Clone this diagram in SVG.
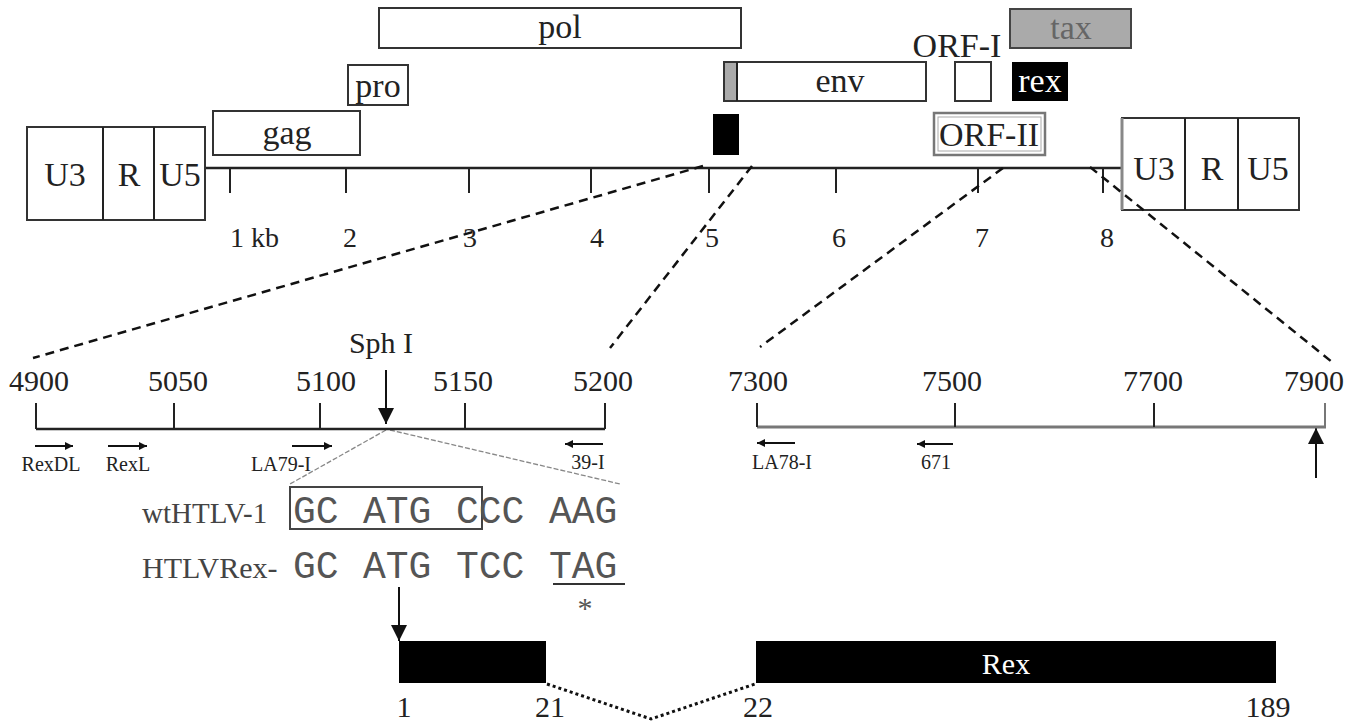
<svg xmlns="http://www.w3.org/2000/svg" width="1362" height="724" viewBox="0 0 1362 724">
<style>
.t{font-family:"Liberation Serif","Times New Roman",serif;fill:#222}
.g{font-size:34px;text-anchor:middle}
.k{font-size:28px;text-anchor:middle}
.s{font-size:30px;text-anchor:middle}
.p{font-size:20px;text-anchor:middle}
.m{font-family:"Liberation Mono","Courier New",monospace;font-size:38px;fill:#555}
.box{fill:#fff;stroke:#333;stroke-width:2}
.ln{stroke:#222;stroke-width:2;fill:none}
.dash{stroke:#111;stroke-width:2.5;stroke-dasharray:9 6;fill:none}
</style>
<defs>
<marker id="sa" viewBox="0 0 10 10" refX="10" refY="5" markerWidth="10" markerHeight="8" markerUnits="userSpaceOnUse" orient="auto"><path d="M0,0 L10,5 L0,10 z" fill="#111"/></marker>
<marker id="ba" viewBox="0 0 10 10" refX="10" refY="5" markerWidth="18" markerHeight="16" markerUnits="userSpaceOnUse" orient="auto"><path d="M0,0 L10,5 L0,10 z" fill="#111"/></marker>
</defs>
<rect width="1362" height="724" fill="#fff"/>

<g id="genome">
<line x1="205" y1="168" x2="1122" y2="168" stroke="#222" stroke-width="2.5"/>
<g class="ln">
<line x1="230" y1="168" x2="230" y2="193"/><line x1="346" y1="168" x2="346" y2="193"/>
<line x1="469" y1="168" x2="469" y2="193"/><line x1="591" y1="168" x2="591" y2="193"/>
<line x1="709" y1="168" x2="709" y2="193"/><line x1="836" y1="168" x2="836" y2="193"/>
<line x1="978" y1="168" x2="978" y2="193"/><line x1="1103" y1="168" x2="1103" y2="193"/>
</g>
<text class="t" x="230" y="247" font-size="28">1 kb</text>
<text class="t k" x="350" y="247">2</text><text class="t k" x="470" y="247">3</text>
<text class="t k" x="597" y="247">4</text><text class="t k" x="712" y="247">5</text>
<text class="t k" x="839" y="247">6</text><text class="t k" x="982" y="247">7</text>
<text class="t k" x="1107" y="247">8</text>
</g>

<g id="ltr-left">
<rect class="box" x="27" y="127" width="178" height="93"/>
<line class="ln" x1="103" y1="127" x2="103" y2="220"/><line class="ln" x1="154" y1="127" x2="154" y2="220"/>
<text class="t g" x="65" y="186">U3</text><text class="t g" x="129" y="186">R</text><text class="t g" x="180" y="186">U5</text>
</g>
<g id="ltr-right">
<rect class="box" x="1122" y="118" width="177" height="92"/>
<line x1="1122" y1="118" x2="1122" y2="210" stroke="#888" stroke-width="3"/>
<line class="ln" x1="1185" y1="118" x2="1185" y2="210"/><line class="ln" x1="1238" y1="118" x2="1238" y2="210"/>
<text class="t g" x="1154" y="180">U3</text><text class="t g" x="1212" y="180">R</text><text class="t g" x="1268" y="180">U5</text>
</g>

<g id="gag"><rect class="box" x="213" y="111" width="147" height="44"/><text class="t g" x="287" y="144">gag</text></g>
<g id="pro"><rect class="box" x="348" y="65" width="60" height="40"/><text class="t g" x="378" y="97">pro</text></g>
<g id="pol"><rect class="box" x="379" y="8" width="362" height="40"/><text class="t g" x="560" y="38">pol</text></g>
<g id="env"><rect class="box" x="724" y="62" width="202" height="39"/><rect x="725" y="63" width="11" height="37" fill="#aaa"/><line class="ln" x1="737" y1="62" x2="737" y2="101"/><text class="t g" x="840" y="92">env</text></g>
<g id="black-block"><rect x="713" y="114" width="26" height="41" fill="#000"/></g>
<g id="orf1"><text class="t g" x="957" y="57">ORF-I</text><rect class="box" x="955" y="62" width="36" height="39" stroke="#666"/></g>
<g id="tax"><rect x="1010" y="9" width="121" height="39" fill="#aaa" stroke="#444" stroke-width="2"/><text class="t g" x="1071" y="39" style="fill:#666">tax</text></g>
<g id="rex"><rect x="1012" y="62" width="56" height="39" fill="#000"/><text class="t g" x="1040" y="92" style="fill:#fff">rex</text></g>
<g id="orf2"><rect x="934" y="113" width="111" height="42" fill="#fff" stroke="#777" stroke-width="2.5"/><rect x="938" y="117" width="103" height="34" fill="none" stroke="#aaa" stroke-width="1"/><text class="t g" x="989" y="146">ORF-II</text></g>

<g id="connectors">
<line class="dash" x1="703" y1="166" x2="33" y2="358"/>
<line class="dash" x1="752" y1="166" x2="610" y2="348"/>
<line class="dash" x1="1003" y1="168" x2="760" y2="347"/>
<line class="dash" x1="1090" y1="167" x2="1332" y2="362"/>
<line x1="386" y1="430" x2="290" y2="484" stroke="#888" stroke-width="1.3" stroke-dasharray="5 2"/>
<line x1="390" y1="430" x2="620" y2="484" stroke="#888" stroke-width="1.3" stroke-dasharray="5 2"/>
<line x1="386" y1="370" x2="386" y2="424" stroke="#111" stroke-width="2" marker-end="url(#ba)"/>
<line x1="1316" y1="478" x2="1316" y2="428" stroke="#111" stroke-width="2" marker-end="url(#ba)"/>
<line x1="399" y1="587" x2="399" y2="641" stroke="#111" stroke-width="2" marker-end="url(#ba)"/>
<polyline points="547,684 651,719 755,684" fill="none" stroke="#111" stroke-width="3" stroke-dasharray="3 3"/>
</g>

<g id="scale-left">
<line x1="36" y1="429" x2="605" y2="429" stroke="#222" stroke-width="2.5"/>
<g class="ln">
<line x1="36" y1="403" x2="36" y2="429"/><line x1="174" y1="403" x2="174" y2="429"/>
<line x1="320" y1="403" x2="320" y2="429"/><line x1="465" y1="403" x2="465" y2="429"/>
<line x1="605" y1="403" x2="605" y2="429"/>
</g>
<text class="t s" x="39" y="391">4900</text><text class="t s" x="178" y="391">5050</text>
<text class="t s" x="326" y="391">5100</text><text class="t s" x="463" y="391">5150</text>
<text class="t s" x="603" y="391">5200</text>
<text class="t s" x="381" y="353">Sph I</text>
</g>
<g id="scale-right">
<line x1="757" y1="427" x2="1326" y2="427" stroke="#777" stroke-width="3"/>
<g class="ln">
<line x1="757" y1="403" x2="757" y2="427"/><line x1="955" y1="403" x2="955" y2="427"/>
<line x1="1154" y1="403" x2="1154" y2="427"/><line x1="1325" y1="403" x2="1325" y2="427" stroke="#777"/>
</g>
<text class="t s" x="758" y="391">7300</text><text class="t s" x="952" y="391">7500</text>
<text class="t s" x="1153" y="391">7700</text><text class="t s" x="1314" y="391">7900</text>
</g>

<g id="primers">
<g stroke="#111" stroke-width="2">
<line x1="35" y1="446" x2="73" y2="446" marker-end="url(#sa)"/>
<line x1="108" y1="446" x2="147" y2="446" marker-end="url(#sa)"/>
<line x1="292" y1="446" x2="332" y2="446" marker-end="url(#sa)"/>
<line x1="603" y1="444" x2="565" y2="444" marker-end="url(#sa)"/>
<line x1="795" y1="443" x2="757" y2="443" marker-end="url(#sa)"/>
<line x1="953" y1="444" x2="917" y2="444" marker-end="url(#sa)"/>
</g>
<text class="t p" x="51" y="471">RexDL</text><text class="t p" x="128" y="471">RexL</text>
<text class="t p" x="281" y="471">LA79-I</text><text class="t p" x="588" y="469">39-I</text>
<text class="t p" x="782" y="469">LA78-I</text><text class="t p" x="936" y="469">671</text>
</g>

<g id="sequences">
<text class="t" x="142" y="523" font-size="29" style="fill:#444">wtHTLV-1</text>
<text class="t" x="142" y="578" font-size="30" style="fill:#444">HTLVRex-</text>
<rect x="290" y="487" width="192" height="42" fill="none" stroke="#444" stroke-width="2"/>
<text class="m" x="293" y="523">GC</text><text class="m" x="363" y="523">ATG</text><text class="m" x="456" y="523">CCC</text><text class="m" x="549" y="523">AAG</text>
<text class="m" x="293" y="578">GC</text><text class="m" x="363" y="578">ATG</text><text class="m" x="456" y="578">TCC</text><text class="m" x="549" y="578">TAG</text>
<line x1="553" y1="584" x2="625" y2="584" stroke="#333" stroke-width="2"/>
<text class="t" x="585" y="618" font-size="30" text-anchor="middle" style="fill:#555">*</text>
</g>

<g id="rex-protein">
<rect x="399" y="641" width="147" height="42" fill="#000"/>
<rect x="756" y="641" width="520" height="42" fill="#000"/>
<text class="t" x="1006" y="674" font-size="30" text-anchor="middle" style="fill:#fff">Rex</text>
<text class="t s" x="404" y="717">1</text><text class="t s" x="550" y="717">21</text>
<text class="t s" x="758" y="717">22</text><text class="t s" x="1268" y="717">189</text>
</g>
</svg>
